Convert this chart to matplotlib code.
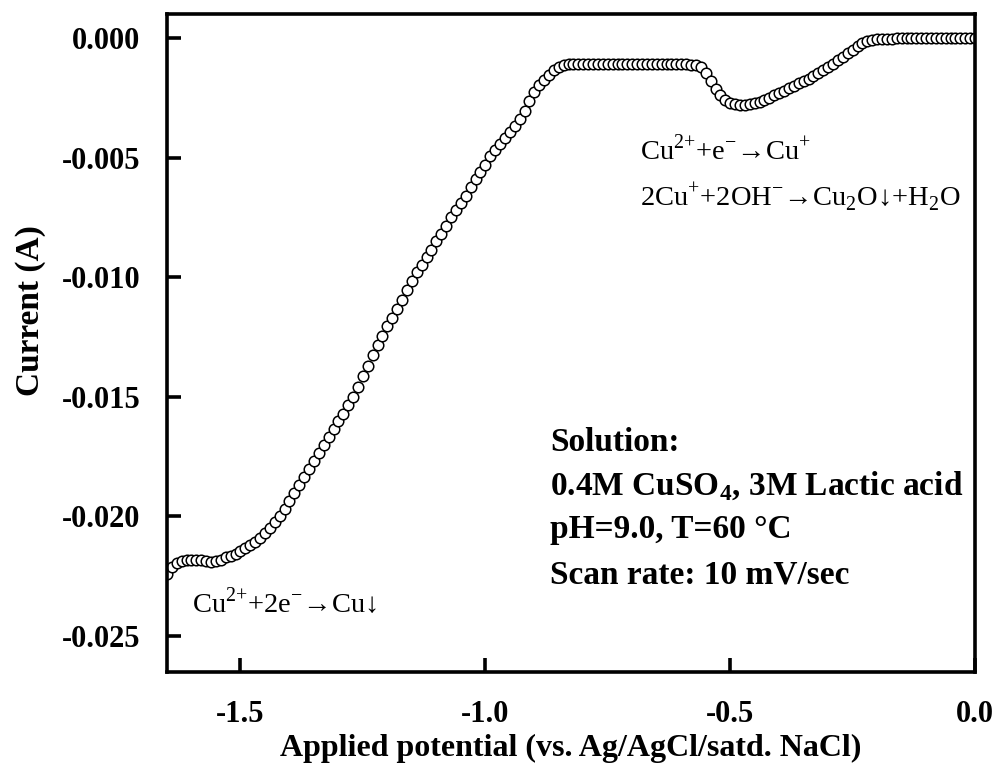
import numpy as np
import matplotlib
matplotlib.use("Agg")
import matplotlib.pyplot as plt

plt.rcParams["font.family"] = ["Liberation Serif", "DejaVu Serif"]
plt.rcParams["font.weight"] = "bold"
plt.rcParams["axes.unicode_minus"] = False
plt.rcParams["mathtext.fontset"] = "custom"
plt.rcParams["mathtext.rm"] = "Liberation Serif:normal"
plt.rcParams["mathtext.bf"] = "Liberation Serif:bold"

# potential sweep, 10 mV steps
potential = np.round(np.arange(-1.65, 0.001, 0.01), 2)

# current in mA
current_mA = [
    -22.4, -22.1, -21.95, -21.85, -21.8, -21.8, -21.8, -21.8, -21.85, -21.9,
    -21.85, -21.8, -21.7, -21.65, -21.55, -21.45, -21.3, -21.2, -21.05, -20.9,
    -20.7, -20.5, -20.25, -20.0, -19.7, -19.35, -19.0, -18.7, -18.35, -18.0,
    -17.7, -17.35, -17.0, -16.7, -16.35, -16.0, -15.7, -15.35, -15.0, -14.6,
    -14.15, -13.7, -13.25, -12.85, -12.45, -12.05, -11.7, -11.35, -10.95, -10.55,
    -10.15, -9.8, -9.5, -9.15, -8.85, -8.5, -8.2, -7.85, -7.5, -7.2,
    -6.9, -6.6, -6.25, -5.9, -5.6, -5.3, -4.95, -4.7, -4.45, -4.2,
    -3.95, -3.7, -3.4, -3.05, -2.65, -2.25, -1.95, -1.75, -1.55, -1.35,
    -1.2, -1.12, -1.1, -1.1, -1.1, -1.1, -1.1, -1.1, -1.1, -1.1,
    -1.1, -1.1, -1.1, -1.1, -1.1, -1.1, -1.1, -1.1, -1.1, -1.1,
    -1.1, -1.1, -1.1, -1.1, -1.1, -1.1, -1.1, -1.12, -1.15, -1.2,
    -1.45, -1.8, -2.15, -2.4, -2.6, -2.7, -2.78, -2.8, -2.8, -2.78,
    -2.72, -2.66, -2.58, -2.5, -2.4, -2.3, -2.2, -2.1, -2.0, -1.9,
    -1.8, -1.7, -1.6, -1.48, -1.35, -1.22, -1.08, -0.94, -0.8, -0.65,
    -0.5, -0.35, -0.22, -0.12, -0.08, -0.06, -0.05, -0.04, -0.03, -0.02,
    -0.02, -0.01, -0.01, 0, 0, 0, 0, 0, 0, 0,
    0, 0, 0, 0, 0, 0,
]
current = np.array(current_mA) / 1000.0

xticks = [-1.5, -1.0, -0.5, 0.0]
yticks = [0.000, -0.005, -0.010, -0.015, -0.020, -0.025]

fig = plt.figure(figsize=(9.97, 7.73), dpi=100)
ax = fig.add_axes([0.1675, 0.1307, 0.8105, 0.8512])

ax.plot(potential, current, linestyle="none", marker="o", markersize=7.6,
        markerfacecolor="white", markeredgecolor="black", markeredgewidth=1.1)

ax.set_xlim(-1.65, 0.0)
ax.set_ylim(-0.0265, 0.001)
ax.set_xticks(xticks)
ax.set_xticklabels([f"{v:.1f}" for v in xticks])
ax.set_yticks(yticks)
ax.set_yticklabels([f"{v:.3f}" for v in yticks])

for s in ax.spines.values():
    s.set_linewidth(2.6)
ax.tick_params(direction="in", length=10, width=2.6, labelsize=22)
ax.tick_params(axis="y", pad=19)
ax.tick_params(axis="x", pad=20)

ax.set_xlabel("Applied potential (vs. Ag/AgCl/satd. NaCl)", fontsize=23,
              fontweight="bold", labelpad=4)
ax.set_ylabel("Current (A)", fontsize=24, fontweight="bold")
ax.yaxis.set_label_coords(-0.150, 0.55)

# reaction labels
norm = dict(fontsize=20.5, fontweight="normal")
ax.text(-0.684, -0.0051, r"Cu$^{2{+}}$+e$^{{-}}$→Cu$^{{+}}$", **norm)
ax.text(-0.684, -0.0070, r"2Cu$^{{+}}$+2OH$^{{-}}$→Cu$_{2}$O↓+H$_{2}$O", **norm)
ax.text(-1.598, -0.0240, r"Cu$^{2{+}}$+2e$^{{-}}$→Cu↓", **norm)

# solution conditions
bold = dict(fontsize=24, fontweight="bold")
ax.text(-0.867, -0.01725, "Solution:", **bold)
ax.text(-0.867, -0.0191, r"0.4M CuSO$_\mathbf{4}$, 3M Lactic acid", **bold)
ax.text(-0.867, -0.0209, "pH=9.0, T=60 \u00b0C", **bold)
ax.text(-0.867, -0.0228, "Scan rate: 10 mV/sec", **bold)

fig.savefig("out.png", dpi=100)
